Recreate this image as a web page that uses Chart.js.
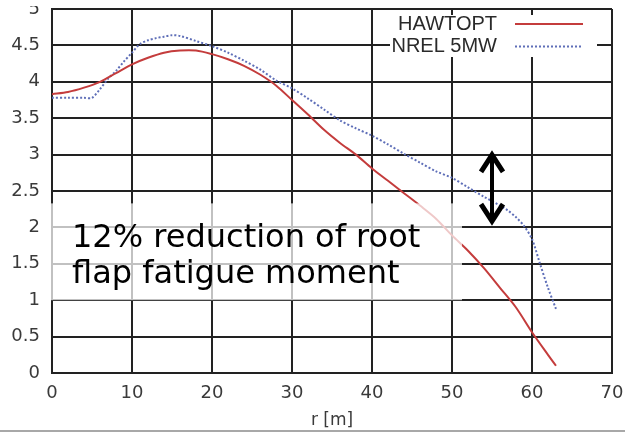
<!DOCTYPE html>
<html><head><meta charset="utf-8">
<script src="https://cdn.jsdelivr.net/npm/chart.js@4.4.1/dist/chart.umd.min.js"></script>
<style>html,body{margin:0;padding:0;background:#fff;overflow:hidden}</style>
</head><body>
<canvas id="c" width="625" height="432"></canvas>
<script>
// ---- data ----
const rHawt = [0, 2, 4, 6, 8, 10, 12, 14, 16, 18, 20, 22, 24, 26, 28, 30, 32, 34, 36, 38, 40, 42, 44, 46, 48, 50, 52, 54, 56, 58, 60, 62, 63];
const mHawt = [3.83, 3.86, 3.92, 4.00, 4.12, 4.24, 4.33, 4.40, 4.43, 4.43, 4.38, 4.31, 4.22, 4.10, 3.95, 3.75, 3.55, 3.34, 3.16, 3.00, 2.81, 2.64, 2.47, 2.30, 2.12, 1.89, 1.68, 1.44, 1.17, 0.90, 0.56, 0.25, 0.10];
const rNrel = [0, 2, 4, 5, 6, 7, 8, 9, 10, 11, 12, 13, 14, 15, 16, 18, 20, 22, 24, 26, 28, 30, 32, 34, 36, 38, 40, 42, 44, 46, 48, 50, 52, 54, 56, 57, 58, 59, 60, 61, 62, 63];
const mNrel = [3.78, 3.78, 3.78, 3.78, 3.90, 4.04, 4.15, 4.28, 4.40, 4.52, 4.57, 4.60, 4.62, 4.64, 4.63, 4.56, 4.49, 4.40, 4.29, 4.17, 4.02, 3.91, 3.77, 3.62, 3.47, 3.36, 3.26, 3.14, 3.01, 2.89, 2.77, 2.68, 2.55, 2.42, 2.30, 2.23, 2.14, 2.02, 1.84, 1.50, 1.17, 0.88];
const xTicks = [0, 10, 20, 30, 40, 50, 60, 70];
const yTicks = [0, 0.5, 1, 1.5, 2, 2.5, 3, 3.5, 4, 4.5, 5];
const seriesNames = ['HAWTOPT', 'NREL 5MW'];
const xTitle = 'r [m]';
const noteLines = ['12% reduction of root', 'flap fatigue moment'];
// annotation placement in data units
const noteBox = [-0.5, 51.25, 1.0, 2.33];   // x0, x1, y0, y1
const arrowAt = [55, 2.03, 3.05];           // x, y0, y1

const red = '#c43c3c', blue = '#5f6fb8', gridC = '#222';

const overlay = {
  id: 'overlay',
  afterDatasetsDraw(chart) {
    const {ctx, chartArea: a, scales: {x, y}} = chart;
    ctx.save();
    // translucent note box
    const bx0 = x.getPixelForValue(noteBox[0]), bx1 = x.getPixelForValue(noteBox[1]);
    const by0 = y.getPixelForValue(noteBox[3]), by1 = y.getPixelForValue(noteBox[2]);
    ctx.fillStyle = 'rgba(255,255,255,0.72)';
    ctx.fillRect(bx0, by0, bx1 - bx0, by1 - by0);
    ctx.fillStyle = '#000';
    ctx.font = '32px "DejaVu Sans"';
    ctx.textAlign = 'left';
    ctx.textBaseline = 'alphabetic';
    ctx.fillText(noteLines[0], bx0 + 24, by0 + 44);
    ctx.fillText(noteLines[1], bx0 + 24, by0 + 80);
    // double arrow
    const ax = x.getPixelForValue(arrowAt[0]);
    const ay0 = y.getPixelForValue(arrowAt[2]), ay1 = y.getPixelForValue(arrowAt[1]);
    ctx.strokeStyle = '#000';
    ctx.lineWidth = 4;
    ctx.beginPath(); ctx.moveTo(ax, ay0 + 4); ctx.lineTo(ax, ay1 - 4); ctx.stroke();
    ctx.lineWidth = 5; ctx.lineJoin = 'miter'; ctx.lineCap = 'butt';
    ctx.beginPath(); ctx.moveTo(ax - 11, ay0 + 21); ctx.lineTo(ax, ay0 + 4); ctx.lineTo(ax + 11, ay0 + 21); ctx.stroke();
    ctx.beginPath(); ctx.moveTo(ax - 11, ay1 - 21); ctx.lineTo(ax, ay1 - 4); ctx.lineTo(ax + 11, ay1 - 21); ctx.stroke();
    // legend
    ctx.fillStyle = '#fff';
    ctx.fillRect(a.right - 222, a.top + 6, 207, 42);
    ctx.font = '20px "Liberation Sans"';
    ctx.textAlign = 'right';
    ctx.textBaseline = 'middle';
    ctx.fillStyle = '#2a2a2a';
    const rows = [[seriesNames[0], red, []], [seriesNames[1], blue, [2, 2]]];
    rows.forEach((r, i) => {
      const ly = a.top + 15 + i * 22.5;
      ctx.fillText(r[0], a.right - 115, ly);
      ctx.strokeStyle = r[1]; ctx.lineWidth = 2; ctx.setLineDash(r[2]);
      ctx.beginPath(); ctx.moveTo(a.right - 97, ly); ctx.lineTo(a.right - 29, ly); ctx.stroke();
    });
    ctx.setLineDash([]);
    ctx.restore();
  },
  afterDraw(chart) {
    const {ctx, chartArea: a} = chart;
    ctx.save();
    ctx.fillStyle = '#fff';
    ctx.fillRect(0, 0, a.left - 4, 6);
    ctx.fillStyle = '#a8a8a8';
    ctx.fillRect(0, 430, chart.width, 2);
    ctx.restore();
  }
};

const tickFont = {family: 'DejaVu Sans', size: 18};
new Chart(document.getElementById('c'), {
  type: 'line',
  data: {
    datasets: [
      {label: seriesNames[0], data: rHawt.map((r, i) => ({x: r, y: mHawt[i]})), borderColor: red, borderWidth: 2, pointRadius: 0, tension: 0.3, fill: false},
      {label: seriesNames[1], data: rNrel.map((r, i) => ({x: r, y: mNrel[i]})), borderColor: blue, borderWidth: 2, borderDash: [2, 2], pointRadius: 0, tension: 0.3, fill: false}
    ]
  },
  options: {
    responsive: false,
    animation: false,
    devicePixelRatio: 1,
    layout: {padding: {left: 0, right: 13, top: 9, bottom: 0}},
    plugins: {legend: {display: false}, tooltip: {enabled: false}},
    scales: {
      x: {
        type: 'linear', min: 0, max: 70,
        afterBuildTicks: s => { s.ticks = xTicks.map(v => ({value: v})); },
        ticks: {font: tickFont, color: '#3a3a3a', padding: 10, maxRotation: 0, autoSkip: false, callback: v => String(v)},
        grid: {color: gridC, lineWidth: 2, drawTicks: false},
        border: {color: gridC, width: 2},
        title: {display: true, text: xTitle, font: {family: 'DejaVu Sans', size: 17}, color: '#3a3a3a', padding: {top: 0, bottom: 1}},
        afterFit: s => { s.height = 59; s.paddingLeft = 0; s.paddingRight = 0; }
      },
      y: {
        type: 'linear', min: 0, max: 5,
        afterBuildTicks: s => { s.ticks = yTicks.map(v => ({value: v})); },
        ticks: {font: tickFont, color: '#3a3a3a', padding: 12, autoSkip: false, callback: v => String(v)},
        grid: {color: gridC, lineWidth: 2, drawTicks: false},
        border: {color: gridC, width: 2},
        afterFit: s => { s.width = 52; s.paddingTop = 0; s.paddingBottom = 0; }
      }
    }
  },
  plugins: [overlay]
});
</script>
</body></html>
